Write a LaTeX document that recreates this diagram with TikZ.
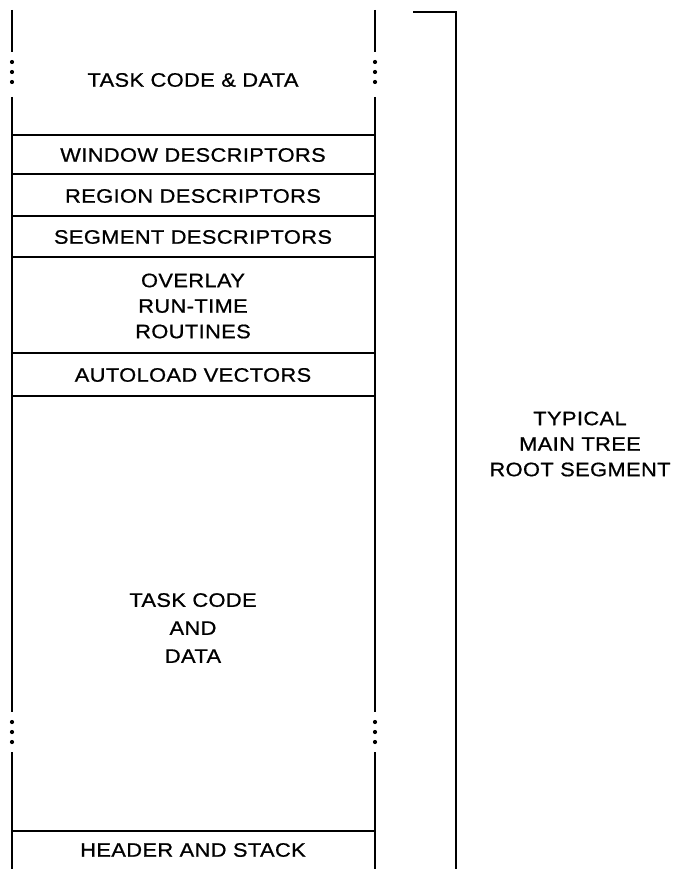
\documentclass[tikz,border=0pt]{standalone}
\usepackage{fontspec}
\setmainfont{Liberation Sans}[FakeStretch=1.12, LetterSpace=2, FakeBold=0.8]
\begin{document}
\begin{tikzpicture}[x=1pt,y=-1pt,
  wall/.style={line width=2.8pt},
  sep/.style={line width=1.8pt},
  lbl/.style={font=\fontsize{19.5}{25.5}\selectfont, align=center, inner sep=0pt},
  dotmark/.style={fill=black, draw=none}]
\useasboundingbox (0,0) rectangle (679,869);
% vertical walls with ellipsis gaps
\foreach \xx in {12,375}{
  \draw[wall] (\xx,10) -- (\xx,52);
  \draw[wall] (\xx,97) -- (\xx,712);
  \draw[wall] (\xx,752) -- (\xx,869);
  \foreach \yy in {62,72,82,722,732,742}
    \fill[dotmark] (\xx,\yy) circle (2.1);
}
% separators
\foreach \yy in {135,174,216,257,353,396,831}
  \draw[sep] (12,\yy) -- (375,\yy);
% bracket
\draw[wall] (413,12) -- (456,12) -- (456,869);
% labels
\node[lbl] (t1) at (193,80) {TASK CODE \& DATA};
\node[lbl] (wd) at (193,155) {WINDOW DESCRIPTORS};
\node[lbl] (rd) at (193,196) {REGION DESCRIPTORS};
\node[lbl] (sd) at (193,237) {SEGMENT DESCRIPTORS};
\node[lbl] (ov) at (193,306) {OVERLAY\\RUN-TIME\\ROUTINES};
\node[lbl] (av) at (193,375) {AUTOLOAD VECTORS};
\node[lbl,font=\fontsize{19.5}{28}\selectfont] (t2) at (193,628) {TASK CODE\\AND\\DATA};
\node[lbl] (hs) at (193,850) {HEADER AND STACK};
\node[lbl] (rs) at (580,444) {TYPICAL\\MAIN TREE\\ROOT SEGMENT};
\end{tikzpicture}
\end{document}
